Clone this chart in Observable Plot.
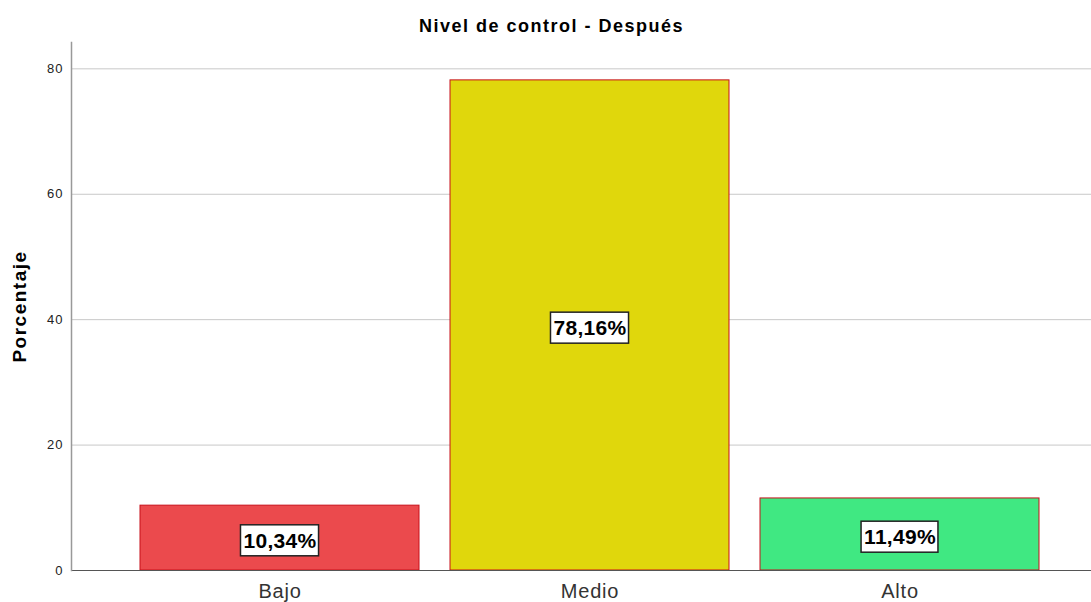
<!DOCTYPE html>
<html><head><meta charset="utf-8">
<script src="https://cdn.jsdelivr.net/npm/d3@7"></script>
<script src="https://cdn.jsdelivr.net/npm/@observablehq/plot@0.6"></script>
<style>
body{margin:0;background:#fff;font-family:Arial,"Liberation Sans",sans-serif}
.ttl text{letter-spacing:1.5px}
.ylab text{letter-spacing:1.5px}
.vlabel text{letter-spacing:0.3px}
.xax text{letter-spacing:0.8px}
.yax text{letter-spacing:1px}
</style>
</head><body><div id="chart"></div>
<script>
const categories = ["Bajo", "Medio", "Alto"];
const values = [10.34, 78.16, 11.49];
const labels = ["10,34%", "78,16%", "11,49%"];
const fills = ["#eb4a4d", "#e0d70c", "#40e882"];
const yTicks = [0, 20, 40, 60, 80];
const title = "Nivel de control - Después";
const yLabel = "Porcentaje";

const data = categories.map((c, i) => ({cat: c, value: values[i], label: labels[i], fill: fills[i]}));

const plot = Plot.plot({
  width: 1091, height: 602,
  marginTop: 42, marginBottom: 32, marginLeft: 71, marginRight: 0,
  style: {fontFamily: "Arial, 'Liberation Sans', sans-serif", background: "#fff"},
  x: {domain: categories, paddingInner: 0.1, paddingOuter: 0.19, align: 0.567, label: null},
  y: {domain: [0, 84.2], label: null},
  marks: [
    Plot.gridY(yTicks, {stroke: "#c8c8c8", strokeOpacity: 1, strokeWidth: 1}),
    Plot.barY(data, {x: "cat", y: "value", fill: "fill", stroke: "#c8101a", strokeWidth: 1}),
    Plot.ruleY([0], {stroke: "#555", strokeWidth: 1}),
    Plot.frame({anchor: "left", stroke: "#999", strokeWidth: 1.5}),
    Plot.axisY(yTicks, {tickSize: 0, tickPadding: 8, fontSize: 13, fill: "#222", label: null, className: "yax"}),
    Plot.axisX({tickSize: 0, tickPadding: 13, fontSize: 20, fill: "#333", label: null, className: "xax"}),
    Plot.text(data, {x: "cat", y: d => d.value / 2, text: "label", fontSize: 21, fontWeight: "bold", fill: "#000", dy: 3, className: "vlabel"}),
    Plot.text([title], {frameAnchor: "top", dx: -30, dy: -23, fontSize: 18, fontWeight: "bold", fill: "#000", className: "ttl"}),
    Plot.text([yLabel], {frameAnchor: "left", textAnchor: "middle", dx: -52, dy: 0, rotate: -90, fontSize: 19, fontWeight: "bold", fill: "#000", className: "ylab"})
  ]
});
document.getElementById("chart").appendChild(plot);

// white boxes behind value labels
d3.select(plot).selectAll("g.vlabel text").each(function() {
  const b = this.getBBox();
  const t = this.getAttribute("transform");
  const r = document.createElementNS("http://www.w3.org/2000/svg", "rect");
  r.setAttribute("x", b.x - 3); r.setAttribute("y", b.y - 4);
  r.setAttribute("width", b.width + 5); r.setAttribute("height", b.height + 8);
  r.setAttribute("fill", "#fff"); r.setAttribute("stroke", "#222"); r.setAttribute("stroke-width", "1.5");
  if (t) r.setAttribute("transform", t);
  this.parentNode.insertBefore(r, this);
});
</script></body></html>
